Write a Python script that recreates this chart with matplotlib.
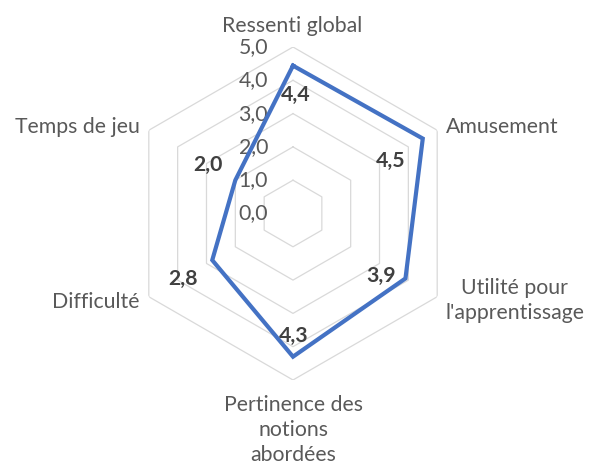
import numpy as np
import matplotlib
matplotlib.use("Agg")
import matplotlib.pyplot as plt

# données du graphique
categories = ["Ressenti global", "Amusement", "Utilité pour\nl'apprentissage",
              "Pertinence des\nnotions\nabordées", "Difficulté", "Temps de jeu"]
valeurs = [4.44, 4.5, 3.9, 4.3, 2.8, 2.0]
graduations = [0, 1, 2, 3, 4, 5]

# position des étiquettes (décalages en pixels)
decal_valeurs = [(3, -29), (-32, -22), (-24, 2), (1, 21), (-29, -19), (-27, 15)]
decal_cats = [(-1, 21, "center"), (9, 3, "left"), (8, -4, "left"),
              (0, -50, "center"), (-9, -5, "right"), (-9, 3, "right")]

plt.rcParams['font.family'] = ['Lato', 'DejaVu Sans']
gris = "#595959"
taille = 15.3

fig = plt.figure(figsize=(5.93, 4.70), dpi=100)
ax = fig.add_axes([0.2133, 0.1915, 0.5616, 0.7085], projection="polar")
ax.set_theta_zero_location("N")
ax.set_theta_direction(-1)
ax.set_ylim(0, 5)
ax.grid(False)
ax.spines["polar"].set_visible(False)
ax.set_xticks([])
ax.set_yticks([])
ax.patch.set_alpha(0)

n = len(categories)
angles = np.linspace(0, 2 * np.pi, n, endpoint=False)
ang_ferme = np.append(angles, angles[0])

# grille hexagonale
for g in graduations[1:]:
    ax.plot(ang_ferme, [g] * (n + 1), color="#d9d9d9", lw=0.9, zorder=1)

# série
vals = np.append(valeurs, valeurs[0])
ax.plot(ang_ferme, vals, color="#4472C4", lw=3, zorder=3, solid_joinstyle="miter")

# étiquettes de l'axe radial
for g in graduations:
    ax.annotate(f"{g:.1f}".replace(".", ","), xy=(0, g), xytext=(-25, 0),
                textcoords="offset pixels", ha="right", va="center",
                fontsize=taille, color=gris, zorder=2)

# étiquettes de données
for a, v, (dx, dy) in zip(angles, valeurs, decal_valeurs):
    ax.annotate(f"{v:.1f}".replace(".", ","), xy=(a, v), xytext=(dx, dy),
                textcoords="offset pixels", ha="center", va="center",
                fontsize=taille, fontweight="bold", color="#404040", zorder=4)

# noms des catégories
for a, c, (dx, dy, ha) in zip(angles, categories, decal_cats):
    ax.annotate(c, xy=(a, 5), xytext=(dx, dy), textcoords="offset pixels",
                ha=ha, va="center", multialignment="center", linespacing=1.3,
                fontsize=taille, color=gris, annotation_clip=False)

fig.savefig("out.png", dpi=100)
